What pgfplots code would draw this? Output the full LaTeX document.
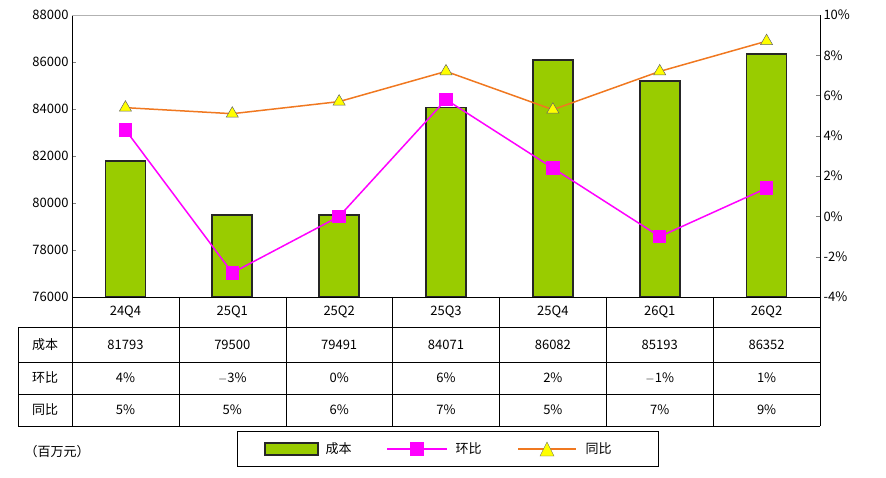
\documentclass[border=0pt]{standalone}
\usepackage{pgfplots}
\pgfplotsset{compat=1.18}
\usepackage{fontspec}
\setmainfont{Noto Sans CJK SC}
\definecolor{barg}{HTML}{99CC00}
\definecolor{mag}{HTML}{FF00FF}
\definecolor{org}{HTML}{F07820}
\definecolor{tri}{HTML}{FFFF00}
\begin{document}
\begin{tikzpicture}[x=1pt,y=1pt,font=\fontsize{13}{15}\selectfont]
\path (0,0) rectangle (886,-478);
\begin{axis}[at={(72pt,-297pt)},anchor=south west,scale only axis,width=748pt,height=282pt,
 xmin=-0.5,xmax=6.5,ymin=76000,ymax=88000,ytick={76000,78000,...,88000},
 scaled y ticks=false,
 xtick=\empty,axis y line*=left,axis x line=none,
 /pgf/number format/assume math mode=true,
 yticklabel style={/pgf/number format/1000 sep={}},
 y tick label style={font=\fontsize{13}{15}\selectfont}]
\addplot[ybar,bar width=40pt,fill=barg,draw=black!85,line width=1.6pt] coordinates {(0,81793)(1,79500)(2,79491)(3,84071)(4,86082)(5,85193)(6,86352)};
\end{axis}
\begin{axis}[at={(72pt,-297pt)},anchor=south west,scale only axis,width=748pt,height=282pt,
 xmin=-0.5,xmax=6.5,ymin=-4,ymax=10,ytick={-4,-2,...,10},yticklabel={\pgfmathprintnumber{\tick}\%},
 xtick=\empty,axis y line*=right,axis x line=none,
 /pgf/number format/assume math mode=true,
 y tick label style={font=\fontsize{13}{15}\selectfont}]
\draw[gray!60] (rel axis cs:0,1)--(rel axis cs:1,1);
\draw[black] (rel axis cs:0,0)--(rel axis cs:1,0);
\addplot[mag,line width=1.5pt,mark=square*,mark size=6pt,mark options={fill=mag,draw=mag}] coordinates {(0,4.3)(1,-2.8)(2,0.0)(3,5.8)(4,2.4)(5,-1.0)(6,1.4)};
\addplot[org,line width=1.5pt,mark=triangle*,mark size=7pt,mark options={fill=tri,draw=black!60,line width=0.5pt}] coordinates {(0,5.4)(1,5.1)(2,5.7)(3,7.2)(4,5.3)(5,7.2)(6,8.7)};
\end{axis}
% table
\foreach \y in {327,362,394,426} \draw (18,-\y)--(820,-\y);
\draw (72,-297)--(820,-297);
\draw (18,-327)--(18,-426);
\foreach \k in {0,...,7} \draw ({72+106.86*\k},-297)--({72+106.86*\k},-426);
\node at (45,-344.5) {成本};
\node at (45,-378) {环比};
\node at (45,-410) {同比};
\foreach \c/\a/\b/\d [count=\i from 0] in {24Q4/81793/4\%/5\%,25Q1/79500/$-$3\%/5\%,25Q2/79491/0\%/6\%,25Q3/84071/6\%/7\%,25Q4/86082/2\%/5\%,26Q1/85193/$-$1\%/7\%,26Q2/86352/1\%/9\%}{
 \node at ({72+106.86*(\i+0.5)},-312) {\c};
 \node at ({72+106.86*(\i+0.5)},-344.5) {\a};
 \node at ({72+106.86*(\i+0.5)},-378) {\b};
 \node at ({72+106.86*(\i+0.5)},-410) {\d};
}
\node at (57,-452) {（百万元）};
% legend
\draw[line width=1pt] (237,-431) rectangle (658,-466);
\draw[fill=barg,draw=black!85,line width=1.6pt] (265,-443) rectangle (318,-455);
\node[anchor=west] at (322,-449) {成本};
\draw[mag,line width=1.5pt] (387,-449)--(447,-449);
\fill[mag] (410,-442) rectangle (424,-456);
\node[anchor=west] at (452,-449) {环比};
\draw[org,line width=1.5pt] (518,-449)--(576,-449);
\draw[fill=tri,draw=black!60] (540,-456)--(554,-456)--(547,-442)--cycle;
\node[anchor=west] at (582,-449) {同比};
\end{tikzpicture}
\end{document}
